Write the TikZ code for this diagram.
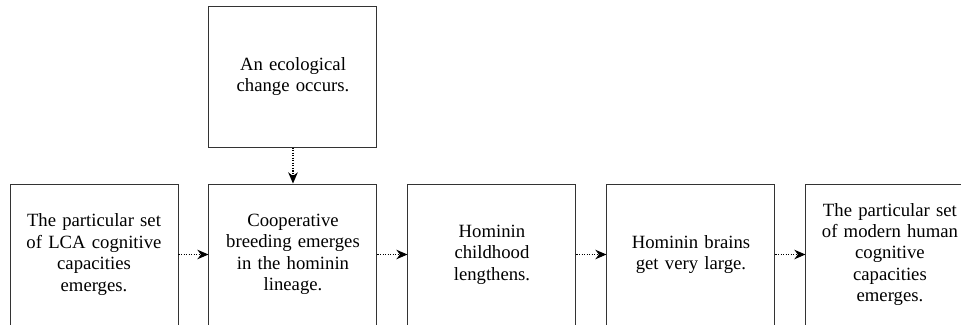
\documentclass[tikz,border=0pt]{standalone}
\usepackage{fontspec}
\setmainfont{Liberation Serif}
\usepackage{tikz}
\usetikzlibrary{arrows.meta,positioning}

\begin{document}
\begin{tikzpicture}[
  node distance=9mm and 7.5mm,
  box/.style={draw=black!80, line width=0.7pt, align=center, minimum width=4.2cm,
              minimum height=3.525cm, text width=3.7cm, inner sep=0pt,
              font=\fontsize{13.3}{15.2}\selectfont},
  arr/.style={-{Stealth[length=2.8mm, width=2.4mm]}, dash pattern=on 0.9pt off 0.9pt,
              line width=0.8pt}
]
\useasboundingbox (0,0) rectangle (24.025,-8.1);
\clip (0,0) rectangle (24.025,-8.1);
\node[box] (lca) at (2.35,-6.3625) {The particular set\\of LCA cognitive\\capacities\\emerges.};
\node[box, right=of lca] (coop) {Cooperative\\breeding emerges\\in the hominin\\lineage.};
\node[box, right=of coop] (child) {Hominin\\childhood\\lengthens.};
\node[box, right=of child] (brain) {Hominin brains\\get very large.};
\node[box, right=of brain] (modern) {The particular set\\of modern human\\cognitive\\capacities\\emerges.};
\node[box, above=of coop] (eco) {An ecological\\change occurs.};

\draw[arr] (eco) -- (coop);
\draw[arr] (lca) -- (coop);
\draw[arr] (coop) -- (child);
\draw[arr] (child) -- (brain);
\draw[arr] (brain) -- (modern);
\end{tikzpicture}
\end{document}
